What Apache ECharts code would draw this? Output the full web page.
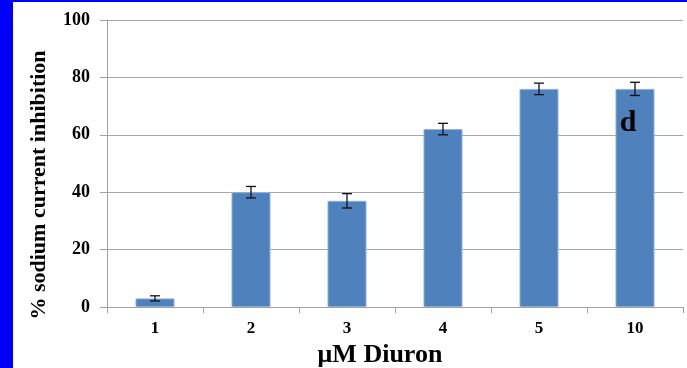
<!DOCTYPE html>
<html lang="en">
<head>
    <meta charset="UTF-8">
    <title>Diuron</title>
    <script src="https://cdn.jsdelivr.net/npm/echarts@6/dist/echarts.min.js"></script>
    <style>
        html, body { margin: 0; padding: 0; background: #fff; }
        #main { width: 687px; height: 368px; }
    </style>
</head>
<body>
    <div id="main"></div>
<script>
    // data
    var categories = ['1', '2', '3', '4', '5', '10'];
    var values = [3, 40, 37, 62, 76, 76];
    var errors = [0.9, 2, 2.5, 2, 2, 2.3];
    var yTicks = [0, 20, 40, 60, 80, 100];

    var font = '"Liberation Serif", "Times New Roman", serif';

    var barData = values.map(function (v, i) {
        if (i === values.length - 1) {
            return {
                value: v,
                label: {
                    show: true, formatter: 'd', position: 'insideTop', distance: 19, offset: [-7, 0],
                    fontSize: 30, fontWeight: 'bold', fontFamily: font, color: '#000'
                }
            };
        }
        return v;
    });

    var errData = values.map(function (v, i) {
        return [i, v - errors[i], v + errors[i]];
    });

    var myChart = echarts.init(document.getElementById('main'));
    var option = {
        animation: false,
        backgroundColor: '#fff',
        graphic: [
            { type: 'rect', left: 0, top: 0, shape: { width: 13, height: 368 }, style: { fill: '#0000ff' } },
            { type: 'rect', left: 0, top: 0, shape: { width: 687, height: 2 }, style: { fill: '#0000ff' } },
            // y axis title sits lower than the plot centre in the original
            {
                type: 'text', x: 39, y: 185, rotation: Math.PI / 2,
                style: {
                    text: '% sodium current inhibition', font: 'bold 22px ' + font,
                    fill: '#000', align: 'center', verticalAlign: 'middle'
                }
            }
        ],
        grid: { left: 107, right: 4, top: 20, bottom: 61, outerBoundsMode: 'none' },
        xAxis: {
            type: 'category',
            data: categories,
            name: 'μM Diuron',
            nameLocation: 'middle',
            nameGap: 32,
            nameTextStyle: { fontFamily: font, fontSize: 26, fontWeight: 'bold', color: '#000', padding: [0, 30, 0, 0] },
            axisLine: { lineStyle: { color: '#a0a0a0' } },
            axisTick: { show: true, length: 6, lineStyle: { color: '#a0a0a0' } },
            axisLabel: { fontFamily: font, fontSize: 17, fontWeight: 'bold', color: '#000', margin: 13 }
        },
        yAxis: {
            type: 'value',
            min: yTicks[0],
            max: yTicks[yTicks.length - 1],
            interval: 20,
            axisLine: { show: true, lineStyle: { color: '#a0a0a0' } },
            axisTick: { show: true, length: 7, lineStyle: { color: '#a0a0a0' } },
            axisLabel: { fontFamily: font, fontSize: 18, fontWeight: 'bold', color: '#000', margin: 17 },
            splitLine: { lineStyle: { color: '#a6a6a6' } }
        },
        series: [
            {
                type: 'bar',
                data: barData,
                barWidth: 39,
                itemStyle: { color: '#4f81bd', borderColor: '#8fb0dc', borderWidth: 1 }
            },
            {
                type: 'custom',
                data: errData,
                z: 10,
                renderItem: function (params, api) {
                    var x = api.value(0);
                    var lo = api.coord([x, api.value(1)]);
                    var hi = api.coord([x, api.value(2)]);
                    var w = 5;
                    var st = { stroke: '#111', lineWidth: 1.3 };
                    return {
                        type: 'group',
                        children: [
                            { type: 'line', shape: { x1: hi[0], y1: hi[1], x2: lo[0], y2: lo[1] }, style: st },
                            { type: 'line', shape: { x1: hi[0] - w, y1: hi[1], x2: hi[0] + w, y2: hi[1] }, style: st },
                            { type: 'line', shape: { x1: lo[0] - w, y1: lo[1], x2: lo[0] + w, y2: lo[1] }, style: st }
                        ]
                    };
                }
            }
        ]
    };
    myChart.setOption(option);
</script>
</body>
</html>
